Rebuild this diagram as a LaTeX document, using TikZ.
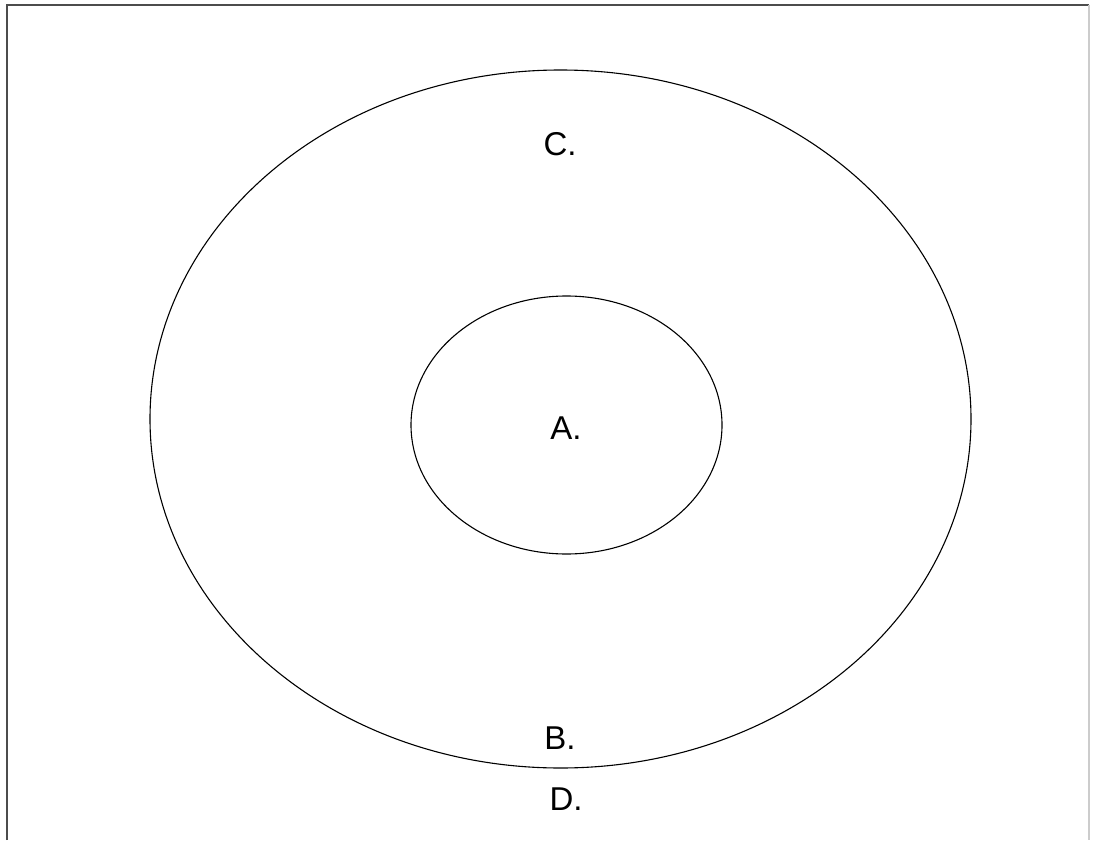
\documentclass[tikz,border=0pt]{standalone}
\usepackage{fontspec}
\setmainfont{Liberation Sans}
\begin{document}
\begin{tikzpicture}[x=1pt,y=-1pt,
  ring/.style={draw=black,line width=1.1pt},
  lbl/.style={font=\fontsize{33}{37}\selectfont,inner sep=0pt,anchor=base}]
\useasboundingbox (0,0) rectangle (1094,840);
\fill[white] (0,0) rectangle (1094,840);
\draw[line width=1.8pt,draw=black!70] (7,840) -- (7,5) -- (1089,5);
\draw[line width=1.8pt,draw=black!20] (1089,5) -- (1089,840);
\draw[ring] (560.5,419) ellipse [x radius=410.5, y radius=349];
\draw[ring] (566.5,425) ellipse [x radius=155.5, y radius=129];
\node[lbl] (C) at (560,155) {C.};
\node[lbl] (A) at (566,439) {A.};
\node[lbl] (B) at (560,749) {B.};
\node[lbl] (D) at (566,810) {D.};
\end{tikzpicture}
\end{document}
